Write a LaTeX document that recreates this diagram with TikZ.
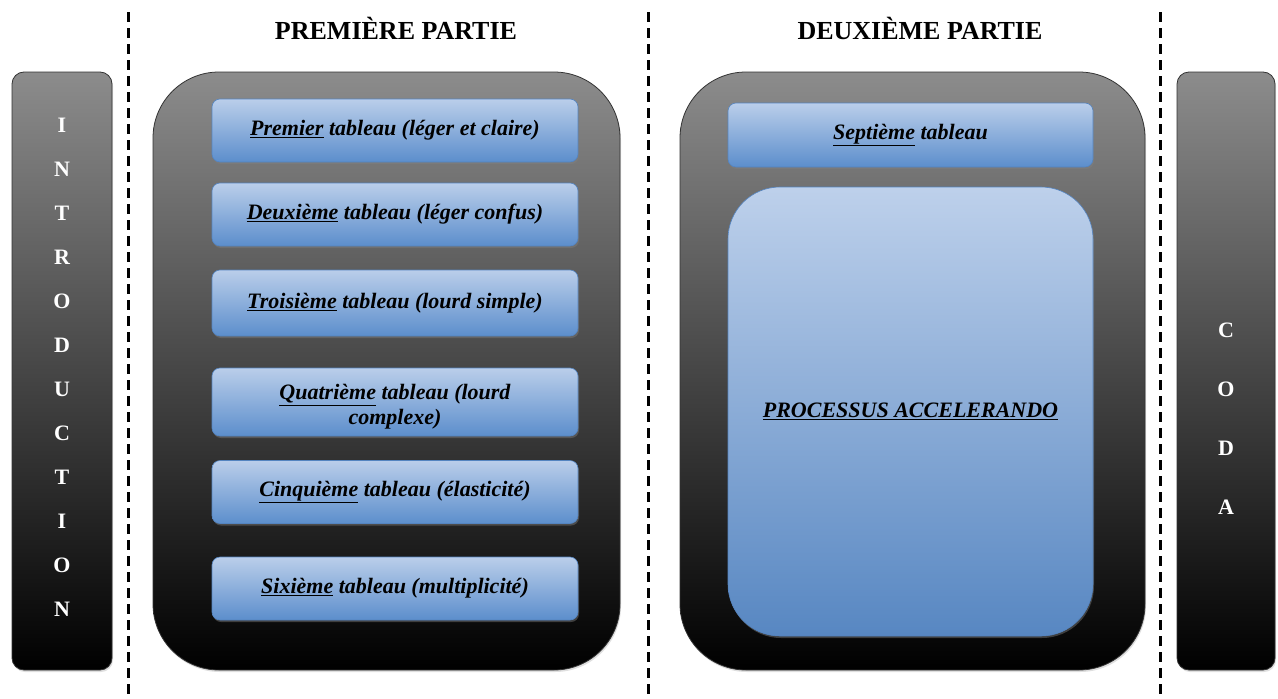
\documentclass[tikz,border=0pt]{standalone}
\usepackage{fontspec}
\setmainfont{Liberation Serif}
\usetikzlibrary{shadows}
\definecolor{bluetop}{RGB}{186,206,234}
\definecolor{bluebot}{RGB}{92,142,204}
\definecolor{blueline}{RGB}{84,132,192}
\definecolor{graytop}{RGB}{140,140,140}
\newcommand{\ul}[1]{\underline{#1}}
\begin{document}
\begin{tikzpicture}[x=1pt,y=-1pt,
  bigbox/.style={draw=black!80, line width=0.8pt, top color=graytop, bottom color=black,
     inner sep=0pt, drop shadow={shadow xshift=1pt, shadow yshift=-2pt, opacity=0.25}},
  bluebox/.style={draw=blueline, line width=0.6pt, top color=bluetop, bottom color=bluebot,
     rounded corners=8pt, inner sep=0pt, minimum width=366pt, minimum height=63pt,
     drop shadow={shadow xshift=1pt, shadow yshift=-2pt, opacity=0.45},
     font=\fontsize{22}{24}\selectfont\bfseries\itshape, align=center},
  letters/.style={font=\fontsize{22}{44}\selectfont\bfseries, text=white, align=center, inner sep=0pt},
  sepline/.style={line width=3pt, dash pattern=on 10pt off 6pt, black},
  title/.style={font=\fontsize{26}{28}\selectfont\bfseries}]
\useasboundingbox[fill=white] (0,0) rectangle (1278,699);
% separators
\coordinate (s1t) at (128,12); \coordinate (s1b) at (128,699);
\coordinate (s2t) at (648,12); \coordinate (s2b) at (648,699);
\coordinate (s3t) at (1160,12); \coordinate (s3b) at (1160,699);
\draw[sepline] (s1t) -- (s1b);
\draw[sepline] (s2t) -- (s2b);
\draw[sepline] (s3t) -- (s3b);
% titles
\node[title] (t1) at (396,28) {PREMIÈRE PARTIE};
\node[title] (t2) at (920,28) {DEUXIÈME PARTIE};
% introduction
\node[bigbox, rounded corners=12pt, minimum width=100pt, minimum height=598pt] (intro) at (62,371) {};
\node[letters] (introtxt) at (62,367) {I\\N\\T\\R\\O\\D\\U\\C\\T\\I\\O\\N};
% coda
\node[bigbox, rounded corners=12pt, minimum width=98pt, minimum height=598pt] (coda) at (1226,371) {};
\node[letters, font=\fontsize{22}{59}\selectfont\bfseries] (codatxt) at (1226,419) {C\\O\\D\\A};
% part one
\node[bigbox, rounded corners=66pt, minimum width=467pt, minimum height=598pt] (p1) at (386.5,371) {};
\node[bluebox] (b1) at (395,130.5) {\ul{Premier} tableau (léger et claire)};
\node[bluebox] (b2) at (395,214.5) {\ul{Deuxième} tableau (léger confus)};
\node[bluebox, minimum height=66pt] (b3) at (395,303) {\ul{Troisième} tableau (lourd simple)};
\node[bluebox, minimum height=68pt] (b4) at (395,402) {};
\begin{scope}
\clip[rounded corners=8pt] (b4.north west) rectangle (b4.south east);
\node[font=\fontsize{22}{25}\selectfont\bfseries\itshape, align=center] (b4txt) at (395,407) {\ul{Quatrième} tableau (lourd\\complexe)};
\end{scope}
\node[bluebox] (b5) at (395,492) {\ul{Cinquième} tableau (élasticité)};
\node[bluebox] (b6) at (395,588.5) {\ul{Sixième} tableau (multiplicité)};
% part two
\node[bigbox, rounded corners=66pt, minimum width=465pt, minimum height=598pt] (p2) at (912.5,371) {};
\node[bluebox, minimum width=365pt, minimum height=64pt] (b7) at (910.5,135) {\ul{Septième} tableau};
\node[bluebox, rounded corners=52pt, minimum width=365pt, minimum height=449pt, top color=bluetop!95!white, bottom color=bluebot!95!black] (b8) at (910.5,411.5) {\ul{PROCESSUS ACCELERANDO}};
\end{tikzpicture}
\end{document}
